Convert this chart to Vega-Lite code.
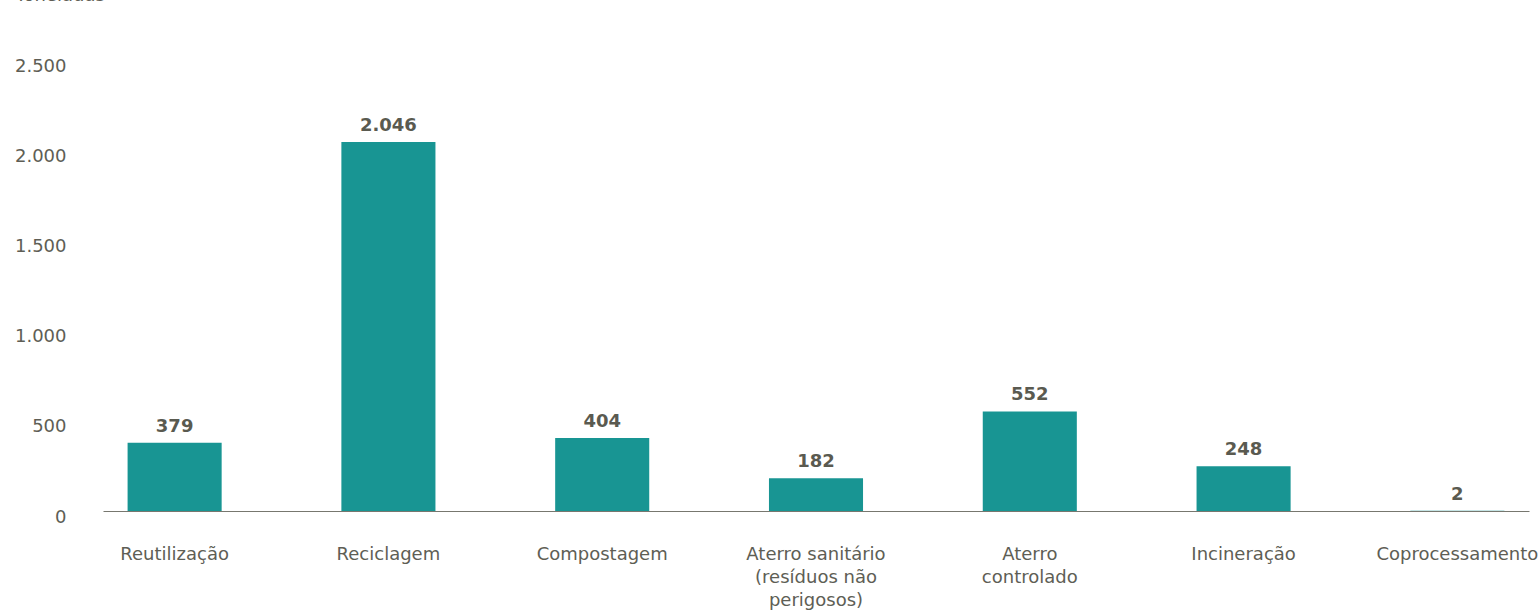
{
  "$schema": "https://vega.github.io/schema/vega-lite/v6.json",
  "width": 1426,
  "height": 451,
  "autosize": {"type": "none"},
  "padding": {"left": 103, "top": 60, "right": 9, "bottom": 101},
  "config": {
    "view": {"stroke": null},
    "font": "DejaVu Sans",
    "locale": {"number": {"decimal": ",", "thousands": ".", "grouping": [3], "currency": ["R$", ""]}}
  },
  "data": {
    "values": [
      {"destino": "Reutilização", "toneladas": 379},
      {"destino": "Reciclagem", "toneladas": 2046},
      {"destino": "Compostagem", "toneladas": 404},
      {"destino": "Aterro sanitário (resíduos não perigosos)", "toneladas": 182},
      {"destino": "Aterro controlado", "toneladas": 552},
      {"destino": "Incineração", "toneladas": 248},
      {"destino": "Coprocessamento", "toneladas": 2}
    ]
  },
  "encoding": {
    "x": {
      "field": "destino",
      "type": "nominal",
      "sort": null,
      "scale": {"paddingInner": 0.56, "paddingOuter": 0.115},
      "axis": {
        "title": null,
        "labelAngle": 0,
        "labelFontSize": 18,
        "labelColor": "#5e5e55",
        "labelPadding": 34,
        "labelBaseline": "top",
        "labelLineHeight": 23,
        "labelLimit": 0,
        "ticks": false,
        "domainColor": "#77776f",
        "domainWidth": 1,
        "labelExpr": "datum.value == 'Aterro sanitário (resíduos não perigosos)' ? ['Aterro sanitário', '(resíduos não', 'perigosos)'] : datum.value == 'Aterro controlado' ? ['Aterro', 'controlado'] : datum.value"
      }
    },
    "y": {
      "field": "toneladas",
      "type": "quantitative",
      "scale": {"domain": [0, 2500], "nice": false},
      "axis": {
        "values": [0, 500, 1000, 1500, 2000, 2500],
        "format": ",.0f",
        "grid": false,
        "domain": false,
        "ticks": false,
        "labelFontSize": 18,
        "labelColor": "#5e5e55",
        "labelPadding": 37,
        "labelBaseline": "middle",
        "labelOffset": 6,
        "title": "Toneladas",
        "titleAngle": 0,
        "titleAlign": "left",
        "titleBaseline": "alphabetic",
        "titleX": -88,
        "titleY": -60,
        "titleFontSize": 18,
        "titleFontWeight": "normal",
        "titleColor": "#5e5e55"
      }
    }
  },
  "layer": [
    {"mark": {"type": "bar", "color": "#189593"}},
    {
      "mark": {"type": "text", "baseline": "alphabetic", "dy": -11, "fontSize": 18, "fontWeight": "bold", "color": "#5a5a50"},
      "encoding": {"text": {"field": "toneladas", "type": "quantitative", "format": ",.0f"}}
    }
  ]
}
